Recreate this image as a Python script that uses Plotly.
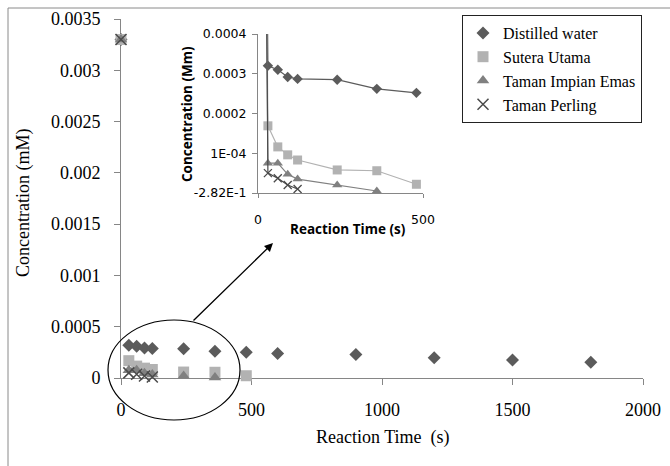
import plotly.graph_objects as go

# ---- data ----
series_names = ["Distilled water", "Sutera Utama", "Taman Impian Emas", "Taman Perling"]
t_dw = [0, 30, 60, 90, 120, 240, 360, 480, 600, 900, 1200, 1500, 1800]
c_dw = [0.0033, 0.00032, 0.00031, 0.000292, 0.000287, 0.000285, 0.000262, 0.000252,
        0.00024, 0.00023, 0.000198, 0.000175, 0.000153]
t_su = [0, 30, 60, 90, 120, 240, 360, 480]
c_su = [0.0033, 0.000169, 0.000116, 0.000096, 0.000083, 0.000058, 0.000056, 0.000022]
t_ti = [0, 30, 60, 90, 120, 240, 360]
c_ti = [0.0033, 0.000075, 0.000075, 0.000047, 0.000035, 0.00002, 0.000005]
t_tp = [0, 30, 60, 90, 120]
c_tp = [0.0033, 0.00005, 0.000037, 0.00002, 0.00001]

main_yticks = [0, 0.0005, 0.001, 0.0015, 0.002, 0.0025, 0.003, 0.0035]
main_yticktext = ["0", "0.0005", "0.001", "0.0015", "0.002", "0.0025", "0.003", "0.0035"]
main_xticks = [0, 500, 1000, 1500, 2000]
inset_yticks = [0, 0.0001, 0.0002, 0.0003, 0.0004]
inset_yticktext = ["-2.82E-1", "1E-04", "0.0002", "0.0003", "0.0004"]
inset_xticks = [0, 500]
inset_tmax = 500

W, H = 670, 466
def px(x): return x / W
def py(y): return 1 - y / H

colors = ["#5b5b5b", "#b2b2b2", "#808080", "#4a4a4a"]
symbols = ["diamond", "square", "triangle-up", "x-thin"]
main_sizes = [10, 11, 11, 11]
inset_sizes = [8, 9, 9, 8]

data = [(t_dw, c_dw), (t_su, c_su), (t_ti, c_ti), (t_tp, c_tp)]

fig = go.Figure()

for i, (t, c) in enumerate(data):
    mk = dict(symbol=symbols[i], size=main_sizes[i], color=colors[i])
    if symbols[i] == "x-thin":
        mk["line"] = dict(color=colors[i], width=1.5)
    fig.add_trace(go.Scatter(x=t, y=c, mode="markers", name=series_names[i],
                             marker=mk, cliponaxis=False, xaxis="x", yaxis="y"))

for i, (t, c) in enumerate(data):
    ti = [a for a in t if a <= inset_tmax]
    ci = [b for a, b in zip(t, c) if a <= inset_tmax]
    mk = dict(symbol=symbols[i], size=inset_sizes[i], color=colors[i])
    if symbols[i] == "x-thin":
        mk["line"] = dict(color=colors[i], width=1.3)
    fig.add_trace(go.Scatter(x=ti, y=ci, mode="lines+markers", name=series_names[i],
                             line=dict(color=colors[i], width=1.2),
                             marker=mk, showlegend=False, xaxis="x2", yaxis="y2"))

serif = "Liberation Serif"
sans = "DejaVu Sans"
axcol = "#868686"

fig.update_layout(
    width=W, height=H,
    margin=dict(l=0, r=0, t=0, b=0, pad=0, autoexpand=False),
    paper_bgcolor="white", plot_bgcolor="rgba(0,0,0,0)",
    showlegend=True,
    legend=dict(x=px(462), y=py(15), xanchor="left", yanchor="top",
                bgcolor="white", bordercolor="#222", borderwidth=1,
                font=dict(family=serif, size=16, color="black"),
                entrywidth=135, entrywidthmode="pixels",
                tracegroupgap=0),
    xaxis=dict(domain=[px(121), px(643)], range=[0, 2000], tickvals=main_xticks,
               showline=True, linecolor=axcol, linewidth=1, ticks="outside",
               tickcolor=axcol, ticklen=6, showgrid=False, zeroline=False,
               tickfont=dict(family=serif, size=18, color="black"),
               ticklabelstandoff=9, layer="below traces", anchor="y", automargin=False),
    yaxis=dict(domain=[py(378), py(19)], range=[0, 0.0035], tickvals=main_yticks,
               ticktext=main_yticktext,
               showline=True, linecolor=axcol, linewidth=1, ticks="outside",
               tickcolor=axcol, ticklen=6, showgrid=False, zeroline=False,
               tickfont=dict(family=serif, size=18, color="black"),
               ticklabelstandoff=10, layer="below traces", anchor="x", automargin=False),
    xaxis2=dict(domain=[px(258), px(423)], range=[0, 500], tickvals=inset_xticks,
                showline=True, linecolor=axcol, linewidth=1, ticks="outside",
                tickcolor=axcol, ticklen=4, showgrid=False, zeroline=False,
                tickfont=dict(family=sans, size=12.5, color="black"),
                ticklabelstandoff=11, anchor="y2", automargin=False),
    yaxis2=dict(domain=[py(193), py(34)], range=[0, 0.0004], tickvals=inset_yticks,
                ticktext=inset_yticktext,
                showline=True, linecolor=axcol, linewidth=1, ticks="outside",
                tickcolor=axcol, ticklen=5, showgrid=False, zeroline=False,
                tickfont=dict(family=sans, size=12.5, color="black"),
                ticklabelstandoff=3, anchor="x2", automargin=False),
)

annotations = [
    dict(text="Reaction Time  (s)", x=px(383), y=py(437), xref="paper", yref="paper",
         xanchor="center", yanchor="middle",
         showarrow=False, font=dict(family=serif, size=18, color="black")),
    dict(text="Concentration (mM)", x=px(23), y=py(203), xref="paper", yref="paper",
         xanchor="center", yanchor="middle",
         showarrow=False, textangle=-90, font=dict(family=serif, size=18, color="black")),
    dict(text="Reaction Time (s)", x=px(348), y=py(229), xref="paper", yref="paper",
         xanchor="center", yanchor="middle",
         showarrow=False, font=dict(family="Open Sans", size=13.5, color="black", weight="bold")),
    dict(text="Concentration (Mm)", x=px(187), y=py(114), xref="paper", yref="paper",
         xanchor="center", yanchor="middle",
         showarrow=False, textangle=-90,
         font=dict(family="Open Sans", size=13.5, color="black", weight="bold")),
    dict(text="", x=px(273), y=py(243), xref="paper", yref="paper",
         showarrow=True, ax=192 - 273, ay=322 - 243, axref="pixel", ayref="pixel",
         arrowhead=2, arrowsize=1.3, arrowwidth=1.3, arrowcolor="black"),
]
fig.update_layout(annotations=annotations)

fig.update_layout(shapes=[
    dict(type="rect", xref="paper", yref="paper", x0=px(8), y0=-0.05, x1=1.05, y1=py(8),
         line=dict(color="#8a8a8a", width=1), fillcolor="rgba(0,0,0,0)"),
    dict(type="circle", xref="paper", yref="paper", x0=px(108), x1=px(240),
         y0=py(420), y1=py(320), line=dict(color="black", width=1.2)),
])

fig.write_html("out.html", config={"displayModeBar": False},
               post_script="document.body.style.margin='0';document.body.style.padding='0';")
